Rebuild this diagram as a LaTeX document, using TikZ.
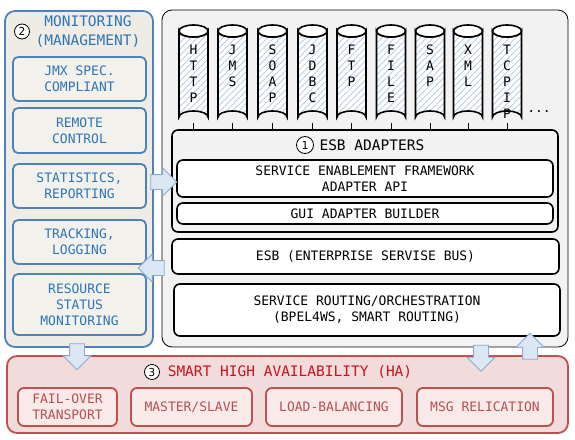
\documentclass[tikz,border=0pt]{standalone}
\usepackage{fontspec}
\setmonofont{DejaVu Sans Mono}
\usetikzlibrary{shapes.geometric,shapes.arrows,patterns.meta}
\definecolor{monfill}{RGB}{238,236,228}
\definecolor{monbox}{RGB}{243,241,236}
\definecolor{monline}{RGB}{79,129,189}
\definecolor{montext}{RGB}{46,117,182}
\definecolor{hafill}{RGB}{242,220,219}
\definecolor{habox}{RGB}{249,234,233}
\definecolor{haline}{RGB}{192,80,77}
\definecolor{hatitle}{RGB}{200,20,30}
\definecolor{hatext}{RGB}{180,80,80}
\definecolor{panelgray}{RGB}{242,242,242}
\definecolor{hatch}{RGB}{175,198,225}
\definecolor{arrfill}{RGB}{220,231,244}
\definecolor{arrline}{RGB}{140,170,210}
\begin{document}
\begin{tikzpicture}[x=1pt,y=-1pt,
  every node/.style={font=\ttfamily\fontsize{13}{16}\selectfont, align=center},
  titlefont/.style={font=\ttfamily\fontsize{14.5}{19}\selectfont},
  monpanel/.style={draw=monline, line width=1.8pt, fill=monfill, rounded corners=10pt, inner sep=0pt},
  monbox/.style={draw=monline, line width=1.8pt, fill=monbox, rounded corners=5pt, inner sep=0pt, text=montext, minimum width=133pt},
  rpanel/.style={draw=black, line width=0.8pt, fill=panelgray, rounded corners=10pt, inner sep=0pt},
  bbox/.style={draw=black, line width=1.6pt, fill=white, rounded corners=6pt, inner sep=0pt},
  hapanel/.style={draw=haline, line width=1.8pt, fill=hafill, rounded corners=10pt, inner sep=0pt},
  habox/.style={draw=haline, line width=1.8pt, fill=habox, rounded corners=6pt, inner sep=0pt, text=hatext, minimum height=38pt},
  cylbody/.style={draw=black, line width=1.6pt, preaction={fill=white},
     pattern={Lines[angle=45,distance=4.5pt,line width=0.7pt]}, pattern color=hatch},
  cyltop/.style={draw=black, line width=1.6pt, fill=white},
  cyltext/.style={anchor=north, inner sep=0pt},
  num/.style={circle, draw=black, line width=0.8pt, fill=white, inner sep=0pt, minimum size=15pt, font=\ttfamily\fontsize{11}{11}\selectfont},
  barrow/.style={single arrow, draw=arrline, fill=arrfill, line width=0.8pt, minimum height=26pt, minimum width=27pt, single arrow head extend=6.5pt, inner sep=7pt}
]
\useasboundingbox (0,0) rectangle (575,439);

% right panel
\node[rpanel, minimum width=406pt, minimum height=337pt] (rpanel) at (365,178.5) {};

% cylinders
\foreach \n/\x/\t in {1/193.5/H\\T\\T\\P, 2/232.5/J\\M\\S, 3/272.5/S\\O\\A\\P, 4/312.5/J\\D\\B\\C, 5/351.5/F\\T\\P, 6/391/F\\I\\L\\E, 7/430/S\\A\\P, 8/468/X\\M\\L, 9/507/T\\C\\P\\I\\P}{
  \path[cylbody] (\x-14.5,31) -- (\x-14.5,117)
     arc[start angle=180, end angle=0, x radius=14.5pt, y radius=6pt]
     -- (\x+14.5,31)
     arc[start angle=0, end angle=-180, x radius=14.5pt, y radius=6pt] -- cycle;
  \path[cyltop] (\x,31) ellipse[x radius=14.5pt, y radius=6pt];
  \coordinate (c\n) at (\x,123);
  \node[cyltext] (t\n) at (\x,45) {\t};
}
\node (dots) at (539,112) {...};

% adapters
\node[bbox, fill=panelgray, minimum width=386pt, minimum height=102pt] (adapt) at (365,181) {};
\foreach \n in {1,...,9}{ \draw[line width=0.8pt] (c\n) -- (c\n |- adapt.north); }
\node[num, minimum size=17pt] (n1) at (305,145) {1};
\node[titlefont, anchor=west] (adtitle) at (316,145) {ESB ADAPTERS};
\node[bbox, minimum width=376pt, minimum height=37pt] (sef) at (365,178.5) {SERVICE ENABLEMENT FRAMEWORK\\ADAPTER API};
\node[bbox, minimum width=376pt, minimum height=21pt] (gui) at (365,213.5) {GUI ADAPTER BUILDER};
\node[bbox, minimum width=387pt, minimum height=35pt] (esb) at (365.5,256.5) {ESB (ENTERPRISE SERVISE BUS)};
\node[bbox, minimum width=386pt, minimum height=52pt] (route) at (367,310) {SERVICE ROUTING/ORCHESTRATION\\(BPEL4WS, SMART ROUTING)};

% monitoring panel
\node[monpanel, minimum width=148pt, minimum height=336pt] (mon) at (79,179) {};
\node[num] (n2) at (22,31.5) {2};
\node[titlefont, text=montext] (montitle) at (88,32) {MONITORING\\(MANAGEMENT)};
\node[monbox, minimum height=44pt] (jmx) at (79.5,79) {JMX SPEC.\\COMPLIANT};
\node[monbox, minimum height=45pt] (remote) at (79.5,130.5) {REMOTE\\CONTROL};
\node[monbox, minimum height=44pt] (stats) at (79.5,186) {STATISTICS,\\REPORTING};
\node[monbox, minimum height=44pt] (track) at (79.5,242) {TRACKING,\\LOGGING};
\node[monbox, minimum height=61pt] (res) at (79.5,304.5) {RESOURCE\\STATUS\\MONITORING};

% HA panel
\node[hapanel, minimum width=561pt, minimum height=77pt] (ha) at (287.5,394.5) {};
\node[num] (n3) at (152,372) {3};
\node[titlefont, text=hatitle] (hatitle) at (290,372) {SMART HIGH AVAILABILITY (HA)};
\node[habox, minimum width=99pt] (fail) at (67.5,407) {FAIL-OVER\\TRANSPORT};
\node[habox, minimum width=121pt] (master) at (191.5,407) {MASTER/SLAVE};
\node[habox, minimum width=136pt] (load) at (334,407) {LOAD-BALANCING};
\node[habox, minimum width=136pt] (msg) at (485,407) {MSG RELICATION};

% block arrows
\node[barrow] (a1) at (160,182) {};
\node[barrow, rotate=180] (a2) at (155,268) {};
\node[barrow, rotate=-90] (a3) at (77,353) {};
\node[barrow, rotate=-90] (a4) at (481,354.5) {};
\node[barrow, rotate=90] (a5) at (530,350) {};
\end{tikzpicture}
\end{document}
